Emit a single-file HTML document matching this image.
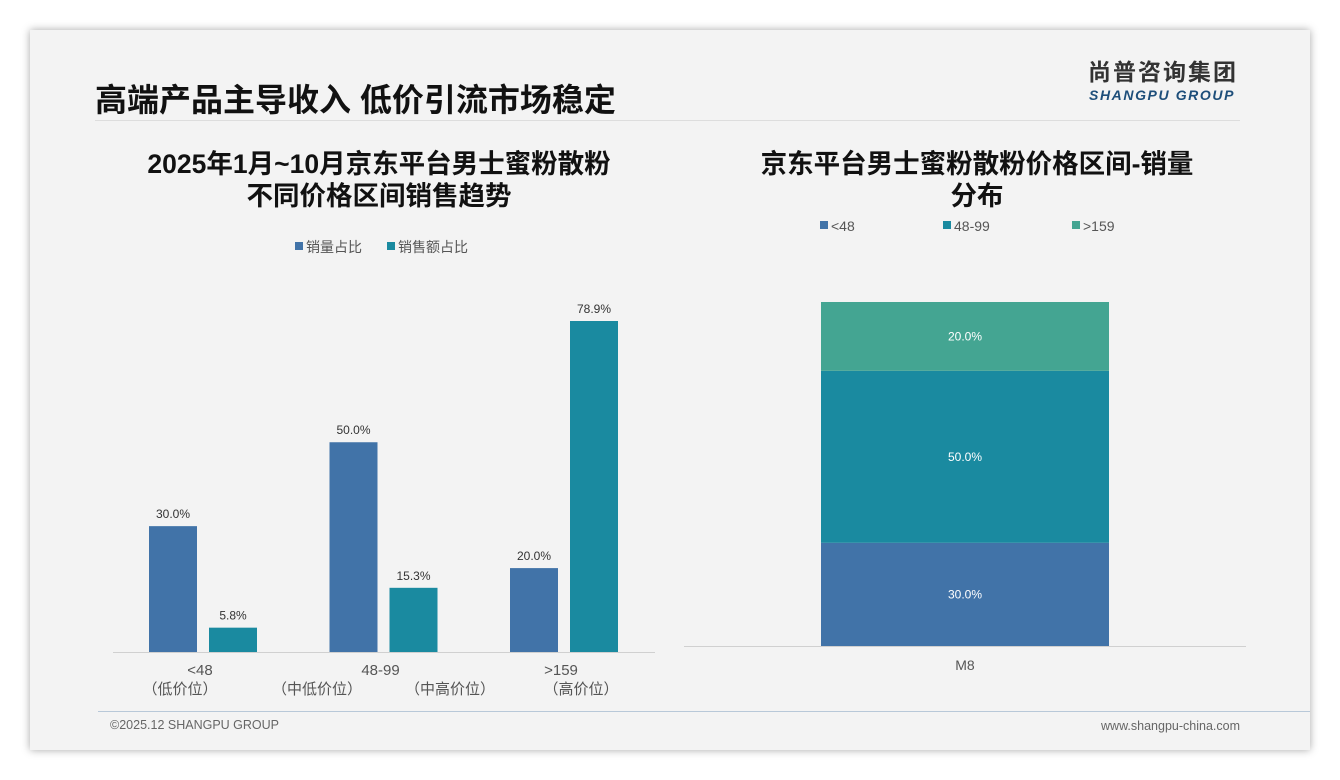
<!DOCTYPE html>
<html><head><meta charset="utf-8"><style>
body{margin:0;width:1340px;height:780px;background:#fff;font-family:"Liberation Sans","Noto Sans CJK SC",sans-serif;position:relative;overflow:hidden}
.card{position:absolute;left:30px;top:30px;width:1280px;height:720px;background:#f3f3f3;box-shadow:0 0 8px rgba(0,0,0,.35)}
.abs{position:absolute}
</style></head><body>
<div class="card"></div>
<div class="abs" style="left:95px;top:75px;font-size:32px;font-weight:bold;color:#111;">高端产品主导收入 低价引流市场稳定</div>
<div class="abs" style="left:1088px;top:58px;font-size:23px;font-weight:bold;color:#333;letter-spacing:2px;line-height:28px">尚普咨询集团</div>
<div class="abs" style="left:1089px;top:87px;font-size:14px;font-weight:bold;font-style:italic;color:#1d4e7a;letter-spacing:1.6px;line-height:16px">SHANGPU GROUP</div>
<div class="abs" style="left:95px;top:120px;width:1145px;height:1px;background:#ddd"></div>
<div class="abs" style="left:98px;top:711px;width:1212px;height:1px;background:#b8c8d8"></div>
<div class="abs" style="left:110px;top:718px;font-size:12.5px;color:#666">©2025.12 SHANGPU GROUP</div>
<div class="abs" style="right:100px;top:719px;font-size:12.5px;color:#666">www.shangpu-china.com</div>
<svg class="abs" style="left:0;top:0" width="1340" height="780">
<g font-family="Liberation Sans,Noto Sans CJK SC,sans-serif">
<text x="379" y="173" text-anchor="middle" font-size="26.5" font-weight="bold" fill="#111">2025年1月~10月京东平台男士蜜粉散粉</text>
<text x="379" y="205" text-anchor="middle" font-size="26.5" font-weight="bold" fill="#111">不同价格区间销售趋势</text>
<text x="977" y="173" text-anchor="middle" font-size="26.5" font-weight="bold" fill="#111">京东平台男士蜜粉散粉价格区间-销量</text>
<text x="977" y="205" text-anchor="middle" font-size="26.5" font-weight="bold" fill="#111">分布</text>
<g>
<rect x="295" y="242" width="8" height="8" fill="#4173a8"/><text x="306" y="252" font-size="14" fill="#555">销量占比</text>
<rect x="387" y="242" width="8" height="8" fill="#1a8aa0"/><text x="398" y="252" font-size="14" fill="#555">销售额占比</text>
</g>
<line x1="113" y1="652.5" x2="655" y2="652.5" stroke="#d0d0d0"/>
<g id="left"></g>
<g id="right"></g>
<line x1="684" y1="646.5" x2="1246" y2="646.5" stroke="#d0d0d0"/>
<text x="965" y="670" text-anchor="middle" font-size="14" fill="#555">M8</text>
</g></svg>
<script>
const categories=["<48","48-99",">159"];
const subLabels=["（低价位）","（中低价位）","（中高价位）","（高价位）"];
const volumeShare=[30.0,50.0,20.0];
const revenueShare=[5.8,15.3,78.9];
const stackLabels=["<48","48-99",">159"];
const stackValues=[30.0,50.0,20.0];
const NS="http://www.w3.org/2000/svg";
function mk(p,t,a){const e=document.createElementNS(NS,t);for(const k in a)e.setAttribute(k,a[k]);p.appendChild(e);return e;}
const base=652, ppp=331/78.9;
const yL=v=>base-v*ppp;
const cx=i=>203+i*180.5;
const L=document.getElementById('left');
categories.forEach((c,i)=>{
 [[volumeShare,"#4173a8",-54],[revenueShare,"#1a8aa0",6]].forEach(([arr,col,off],s)=>{
  const v=arr[i];
  const r=mk(L,'rect',{x:cx(i)+off,y:yL(v),width:48,height:base-yL(v),fill:col});
  
  
  const t=mk(L,'text',{x:cx(i)+off+24,y:yL(v)-8,'text-anchor':'middle','font-size':12,fill:'#333'});
  t.textContent=v.toFixed(1)+'%';
  
  
 });
 const t=mk(L,'text',{x:cx(i)-3,y:675,'text-anchor':'middle','font-size':15,fill:'#555'});
 t.textContent=c;
 
 
});
[180,317,450,581].forEach((x,i)=>{
 const t=mk(L,'text',{x:x,y:694,'text-anchor':'middle','font-size':15,fill:'#555'});
 t.textContent=subLabels[i];
 
 
});
const R=document.getElementById('right');
const cols=["#4173a8","#1a8aa0","#44a592"];
const rb=646, rh=344/100;
let acc=0;
const legX=[820,943,1072];
stackValues.forEach((v,i)=>{
 const y0=rb-(acc+v)*rh;
 const r=mk(R,'rect',{x:821,y:y0,width:288,height:v*rh,fill:cols[i]});
 
 
 const t=mk(R,'text',{x:965,y:y0+v*rh/2+4,'text-anchor':'middle','font-size':12,fill:'#fff'});
 t.textContent=v.toFixed(1)+'%';
 
 
 acc+=v;
 const sq=mk(R,'rect',{x:legX[i],y:221,width:8,height:8,fill:cols[i]});
 
 
 const lt=mk(R,'text',{x:legX[i]+11,y:231,'font-size':14,fill:'#555'});
 lt.textContent=stackLabels[i];
 
 
});
</script>
</body></html>
